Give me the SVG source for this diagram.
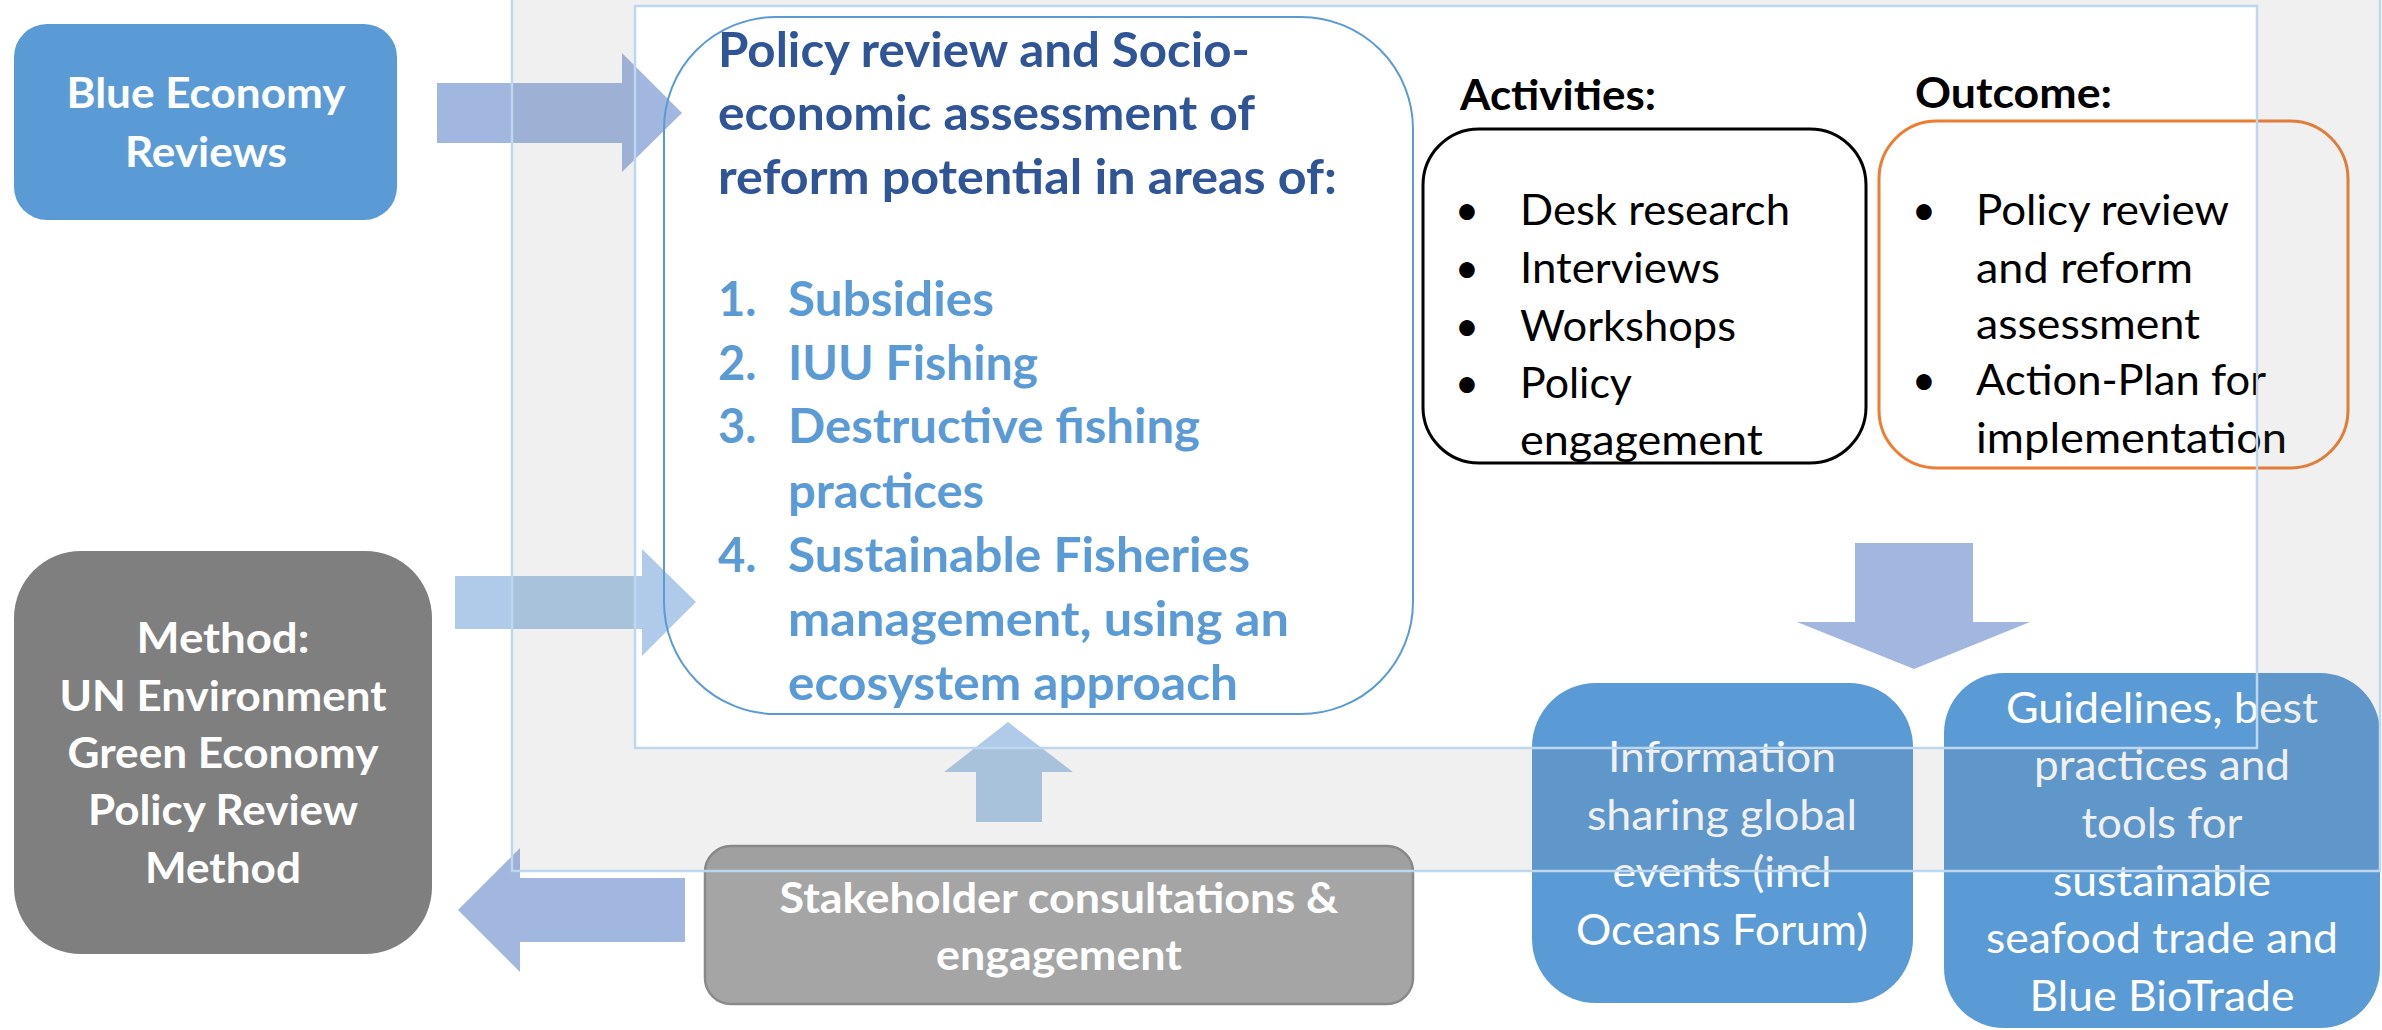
<svg xmlns="http://www.w3.org/2000/svg" width="2382" height="1030" viewBox="0 0 2382 1030">
<style>
.b{font-family:Lato,"Open Sans","DejaVu Sans",sans-serif;font-weight:700;}
.r{font-family:Lato,"Open Sans","DejaVu Sans",sans-serif;font-weight:400;}
.w{fill:#ffffff;}
.k{fill:#000000;}
.m{text-anchor:middle;}
.t{fill:#2f5597;font-size:47px;}
.l{fill:#5b9bd5;font-size:47px;}
.n{font-size:42px;}
.blue{fill:#5b9bd5;}
.arA{fill:#a2b7df;}
.arB{fill:#afcbe9;}
.frame{fill:none;stroke:#bdd7ee;stroke-width:2.5;}
</style>
<rect width="2382" height="1030" fill="#ffffff"/>

<g id="node-blue-economy">
<rect x="14" y="24" width="383" height="196" rx="33" class="blue"/>
<text class="b w m n" x="206" y="108" textLength="279" lengthAdjust="spacingAndGlyphs">Blue Economy</text>
<text class="b w m n" x="206" y="167" textLength="162" lengthAdjust="spacingAndGlyphs">Reviews</text>
</g>

<g id="node-method">
<rect x="14" y="551" width="418" height="403" rx="67" fill="#7f7f7f"/>
<text class="b w m n" x="223" y="653" textLength="173" lengthAdjust="spacingAndGlyphs">Method:</text>
<text class="b w m n" x="223" y="711" textLength="327" lengthAdjust="spacingAndGlyphs">UN Environment</text>
<text class="b w m n" x="223" y="768" textLength="311" lengthAdjust="spacingAndGlyphs">Green Economy</text>
<text class="b w m n" x="223" y="825" textLength="270" lengthAdjust="spacingAndGlyphs">Policy Review</text>
<text class="b w m n" x="223" y="883" textLength="156" lengthAdjust="spacingAndGlyphs">Method</text>
</g>

<g id="node-stakeholder">
<rect x="705" y="846" width="708" height="158" rx="26" fill="#a5a5a5" stroke="#8a8a8a" stroke-width="2.5"/>
<text class="b w m n" x="1059" y="913" textLength="559" lengthAdjust="spacingAndGlyphs">Stakeholder consultations &amp;</text>
<text class="b w m n" x="1059" y="970" textLength="246" lengthAdjust="spacingAndGlyphs">engagement</text>
</g>

<g id="node-information">
<rect x="1532" y="683" width="381" height="320" rx="64" class="blue"/>
<text class="r w m n" x="1722" y="772" textLength="228" lengthAdjust="spacingAndGlyphs">Information</text>
<text class="r w m n" x="1722" y="830" textLength="270" lengthAdjust="spacingAndGlyphs">sharing global</text>
<text class="r w m n" x="1722" y="887" textLength="219" lengthAdjust="spacingAndGlyphs">events (incl</text>
<text class="r w m n" x="1722" y="945" textLength="292" lengthAdjust="spacingAndGlyphs">Oceans Forum)</text>
</g>

<g id="node-guidelines">
<rect x="1944" y="673" width="436" height="355" rx="60" class="blue"/>
<text class="r w m n" x="2162" y="723" textLength="312" lengthAdjust="spacingAndGlyphs">Guidelines, best</text>
<text class="r w m n" x="2162" y="780" textLength="256" lengthAdjust="spacingAndGlyphs">practices and</text>
<text class="r w m n" x="2162" y="838" textLength="161" lengthAdjust="spacingAndGlyphs">tools for</text>
<text class="r w m n" x="2162" y="896" textLength="218" lengthAdjust="spacingAndGlyphs">sustainable</text>
<text class="r w m n" x="2162" y="953" textLength="352" lengthAdjust="spacingAndGlyphs">seafood trade and</text>
<text class="r w m n" x="2162" y="1011" textLength="265" lengthAdjust="spacingAndGlyphs">Blue BioTrade</text>
</g>

<g id="connectors">
<polygon class="arA" points="437,83 622,83 622,53 682,113 622,172 622,143 437,143"/>
<polygon class="arB" points="455,576 642,576 642,549 696,602 642,656 642,629 455,629"/>
<polygon class="arB" points="976,822 976,772 944,772 1008,722 1073,772 1042,772 1042,822"/>
<polygon class="arA" points="685,878 520,878 520,848 458,910 520,972 520,942 685,942"/>
<polygon class="arA" points="1855,543 1973,543 1973,622 2030,622 1914,669 1797,622 1855,622"/>
</g>

<g id="node-policy">
<rect x="664" y="17" width="749" height="697" rx="112" fill="none" stroke="#5b9bd5" stroke-width="2"/>
<text class="b t" x="718" y="67" textLength="532" lengthAdjust="spacingAndGlyphs">Policy review and Socio-</text>
<text class="b t" x="718" y="130" textLength="537" lengthAdjust="spacingAndGlyphs">economic assessment of</text>
<text class="b t" x="718" y="194" textLength="619" lengthAdjust="spacingAndGlyphs">reform potential in areas of:</text>
<text class="b l" x="718" y="316">1.</text>
<text class="b l" x="788" y="316" textLength="206" lengthAdjust="spacingAndGlyphs">Subsidies</text>
<text class="b l" x="718" y="380">2.</text>
<text class="b l" x="788" y="380" textLength="250" lengthAdjust="spacingAndGlyphs">IUU Fishing</text>
<text class="b l" x="718" y="443">3.</text>
<text class="b l" x="788" y="443" textLength="412" lengthAdjust="spacingAndGlyphs">Destructive fishing</text>
<text class="b l" x="788" y="508" textLength="196" lengthAdjust="spacingAndGlyphs">practices</text>
<text class="b l" x="718" y="572">4.</text>
<text class="b l" x="788" y="572" textLength="462" lengthAdjust="spacingAndGlyphs">Sustainable Fisheries</text>
<text class="b l" x="788" y="636" textLength="501" lengthAdjust="spacingAndGlyphs">management, using an</text>
<text class="b l" x="788" y="700" textLength="450" lengthAdjust="spacingAndGlyphs">ecosystem approach</text>
</g>

<g id="node-activities">
<text class="b k n" x="1460" y="110" textLength="196" lengthAdjust="spacingAndGlyphs">Activities:</text>
<rect x="1423" y="129" width="443" height="334" rx="56" fill="none" stroke="#000000" stroke-width="3"/>
<text class="r k m n" x="1467" y="225">•</text>
<text class="r k n" x="1520" y="225" textLength="270" lengthAdjust="spacingAndGlyphs">Desk research</text>
<text class="r k m n" x="1467" y="283">•</text>
<text class="r k n" x="1520" y="283" textLength="200" lengthAdjust="spacingAndGlyphs">Interviews</text>
<text class="r k m n" x="1467" y="341">•</text>
<text class="r k n" x="1520" y="341" textLength="216" lengthAdjust="spacingAndGlyphs">Workshops</text>
<text class="r k m n" x="1467" y="398">•</text>
<text class="r k n" x="1520" y="398" textLength="112" lengthAdjust="spacingAndGlyphs">Policy</text>
<text class="r k n" x="1520" y="455" textLength="243" lengthAdjust="spacingAndGlyphs">engagement</text>
</g>

<g id="node-outcome">
<text class="b k n" x="1915" y="108" textLength="197" lengthAdjust="spacingAndGlyphs">Outcome:</text>
<rect x="1879" y="121" width="469" height="347" rx="58" fill="none" stroke="#ed7d31" stroke-width="3"/>
<text class="r k m n" x="1924" y="225">•</text>
<text class="r k n" x="1976" y="225" textLength="253" lengthAdjust="spacingAndGlyphs">Policy review</text>
<text class="r k n" x="1976" y="283" textLength="217" lengthAdjust="spacingAndGlyphs">and reform</text>
<text class="r k n" x="1976" y="339" textLength="224" lengthAdjust="spacingAndGlyphs">assessment</text>
<text class="r k m n" x="1924" y="395">•</text>
<text class="r k n" x="1976" y="395" textLength="290" lengthAdjust="spacingAndGlyphs">Action-Plan for</text>
<text class="r k n" x="1976" y="453" textLength="311" lengthAdjust="spacingAndGlyphs">implementation</text>
</g>

<g id="frame-overlay">
<path d="M512,-4 H2380 V871 H512 Z M635,6 H2257 V748 H635 Z" fill="#7e7e7e" fill-opacity="0.116" fill-rule="evenodd"/>
<rect class="frame" x="512" y="-4" width="1868" height="875"/>
<rect class="frame" x="635" y="6" width="1622" height="742"/>
</g>
</svg>
